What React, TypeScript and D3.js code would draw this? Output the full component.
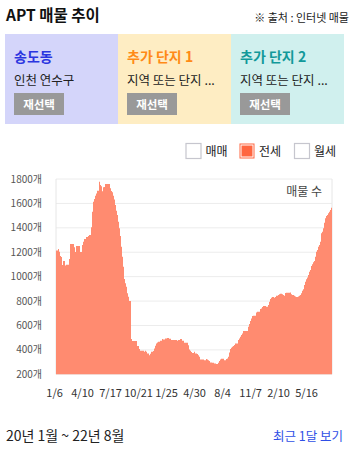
import React from "react";
import * as d3 from "d3";

// ---- data ----
const listingCounts: number[] = [
  1215, 1215, 1226, 1205, 1170, 1160, 1095, 1128, 1128, 1092,
  1098, 1098, 1098, 1144, 1267, 1267, 1267, 1267, 1240, 1202,
  1251, 1251, 1251, 1251, 1202, 1202, 1259, 1286, 1308, 1308,
  1325, 1325, 1333, 1341, 1341, 1404, 1532, 1614, 1636, 1663,
  1682, 1704, 1704, 1778, 1751, 1740, 1699, 1732, 1734, 1759,
  1759, 1759, 1759, 1759, 1724, 1702, 1691, 1663, 1633, 1587,
  1540, 1505, 1450, 1396, 1333, 1245, 1163, 1081, 980, 945,
  918, 863, 836, 800, 800, 489, 472, 472, 472, 472,
  472, 431, 431, 407, 393, 393, 393, 393, 385, 393,
  385, 371, 371, 357, 368, 385, 385, 390, 412, 434,
  453, 461, 467, 467, 475, 475, 489, 486, 486, 494,
  494, 497, 497, 491, 491, 480, 480, 480, 480, 480,
  480, 475, 480, 480, 489, 489, 475, 475, 459, 459,
  459, 459, 437, 404, 393, 382, 374, 374, 385, 371,
  371, 366, 357, 344, 322, 322, 322, 322, 316, 316,
  325, 322, 316, 308, 297, 297, 295, 295, 289, 289,
  284, 284, 295, 308, 322, 327, 327, 327, 316, 316,
  325, 330, 344, 379, 407, 418, 426, 431, 440, 453,
  453, 453, 480, 494, 508, 521, 535, 554, 554, 554,
  554, 554, 590, 612, 636, 658, 677, 680, 680, 680,
  707, 713, 713, 713, 734, 740, 751, 759, 759, 759,
  754, 754, 767, 795, 816, 827, 833, 833, 827, 833,
  844, 844, 849, 855, 860, 860, 855, 849, 844, 866,
  868, 868, 868, 868, 871, 855, 849, 849, 844, 838,
  833, 833, 838, 844, 849, 863, 885, 896, 931, 959,
  978, 994, 1013, 1040, 1054, 1087, 1101, 1117, 1128, 1163,
  1204, 1218, 1245, 1259, 1286, 1355, 1368, 1396, 1442, 1478,
  1497, 1505, 1519, 1532, 1546, 1565,
];
const xTickLabels = ["1/6", "4/10", "7/17", "10/21", "1/25", "4/30", "8/4", "11/7", "2/10", "5/16"];
const xTickEvery = 28;
const yTicks = [200, 400, 600, 800, 1000, 1200, 1400, 1600, 1800];
const panelTitles = ["송도동", "추가 단지 1", "추가 단지 2"];
const panelSubtitles = ["인천 연수구", "지역 또는 단지 ...", "지역 또는 단지 ..."];
const legendItems = ["매매", "전세", "월세"];
const legendChecked = [false, true, false];

// ---- styles ----
const FONT = "'Noto Sans CJK KR', 'Noto Sans', sans-serif";
const panelFills = ["#d4d5fa", "#feedc3", "#d0f0ee"];
const panelTitleColors = ["#2b35e0", "#ff8a16", "#12999a"];
const barColor = "#ff8b70";

const plot = { left: 56, right: 332, top: 179, bottom: 374.3 };

export default function App() {
  const x = d3
    .scaleBand<number>()
    .domain(d3.range(listingCounts.length))
    .range([plot.left, plot.right])
    .padding(0);
  const y = d3.scaleLinear().domain([200, 1800]).range([plot.bottom, plot.top]);

  const pts: [number, number][] = listingCounts.map((v, i) => [x(i)!, y(v)]);
  pts.push([plot.right, y(listingCounts[listingCounts.length - 1])]);
  const areaPath = d3
    .area<[number, number]>()
    .x((d) => d[0])
    .y0(y(200))
    .y1((d) => d[1])
    .curve(d3.curveStepAfter)(pts)!;

  const panelW = 113;
  const panelX0 = 5;

  return (
    <svg
      width={356}
      height={449}
      style={{ position: "absolute", left: 0, top: 0, fontFamily: FONT }}
    >
      <rect x={0} y={0} width={356} height={449} fill="#fff" />
      {/* header */}
      <text x={6} y={21} fontSize={15.5} fontWeight="bold" fill="#111">
        APT 매물 추이
      </text>
      <text x={349} y={22} fontSize={11} fill="#222" textAnchor="end">
        ※ 출처 : 인터넷 매물
      </text>

      {/* panels */}
      {panelTitles.map((t, i) => {
        const px = panelX0 + i * panelW;
        return (
          <g key={t}>
            <rect x={px} y={34} width={panelW} height={90} fill={panelFills[i]} />
            <text x={px + 9} y={62} fontSize={14} fontWeight="bold" fill={panelTitleColors[i]}>
              {t}
            </text>
            <text x={px + 9} y={85} fontSize={12.5} fill="#222">
              {panelSubtitles[i]}
            </text>
            <rect x={px + 9} y={93} width={50} height={22} fill="#999" />
            <text
              x={px + 34}
              y={108.5}
              fontSize={11.5}
              fontWeight="bold"
              fill="#fff"
              textAnchor="middle"
            >
              재선택
            </text>
          </g>
        );
      })}

      {/* legend */}
      {legendItems.map((t, i) => {
        const bx = [186, 239.5, 294.5][i];
        return (
          <g key={t}>
            {legendChecked[i] ? (
              <>
                <rect x={bx} y={143.5} width={15} height={15} fill="#ff6640" />
                <rect x={bx + 1.5} y={145} width={12} height={12} fill="#ff6640" stroke="#fff" strokeWidth={1} />
              </>
            ) : (
              <rect x={bx} y={143.5} width={15} height={15} fill="#fff" stroke="#c6c6ce" strokeWidth={1.2} />
            )}
            <text x={bx + 19.5} y={156} fontSize={12} fill="#222">
              {t}
            </text>
          </g>
        );
      })}

      {/* grid */}
      {yTicks.map((v) => (
        <line key={v} x1={plot.left} x2={plot.right} y1={y(v)} y2={y(v)} stroke="#ececec" strokeWidth={1} />
      ))}
      <line x1={plot.left} x2={plot.left} y1={plot.top} y2={plot.bottom} stroke="#e6e6e6" />
      <line x1={plot.right} x2={plot.right} y1={plot.top} y2={plot.bottom} stroke="#e6e6e6" />

      {/* bars */}
      <path d={areaPath} fill={barColor} />

      {/* y labels */}
      {yTicks.map((v) => (
        <text key={v} x={42} y={y(v) + 3.5} fontSize={10} fill="#555" textAnchor="end">
          {v}개
        </text>
      ))}

      {/* x labels */}
      {xTickLabels.map((t, k) => (
        <text
          key={t}
          x={x(k * xTickEvery)! - 1.4}
          y={397}
          fontSize={11}
          fill="#333"
          textAnchor="middle"
        >
          {t}
        </text>
      ))}

      <text x={322} y={196} fontSize={12} fill="#444" textAnchor="end">
        매물 수
      </text>

      {/* footer */}
      <text x={6} y={441} fontSize={14} fill="#222">
        20년 1월 ~ 22년 8월
      </text>
      <text x={343} y={441} fontSize={12.5} fill="#2f4fe6" textAnchor="end">
        최근 1달 보기
      </text>
    </svg>
  );
}
